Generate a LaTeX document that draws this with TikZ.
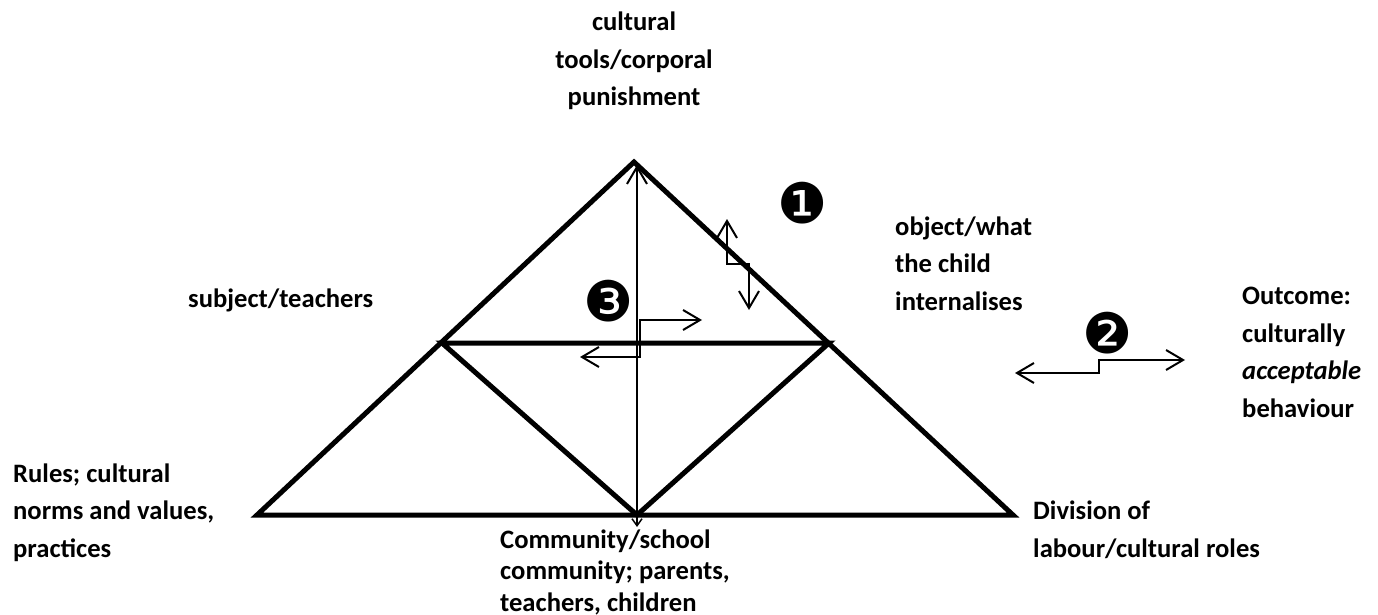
\documentclass[tikz,border=0pt]{standalone}
\usepackage{fontspec}
\setmainfont{Carlito}
\newfontfamily\dingfont{DejaVu Sans}
\usetikzlibrary{arrows.meta}

\begin{document}
\begin{tikzpicture}[x=1pt,y=-1pt,
  frame/.style={line width=5pt, line join=miter},
  link/.style={line width=2pt, line join=miter,
    arrows={Straight Barb[length=17pt,width=20pt,line width=2pt]-Straight Barb[length=17pt,width=20pt,line width=2pt]}},
  axis/.style={line width=2pt,
    arrows={Straight Barb[length=7pt,width=10pt,line width=1.5pt]-Straight Barb[length=17pt,width=20pt,line width=2pt]}},
  lbl/.style={font=\fontsize{26.6}{37.5}\selectfont\bfseries, align=left, anchor=base west, inner sep=0pt},
  num/.style={font=\dingfont\fontsize{56}{56}\selectfont, inner sep=0pt}]
\useasboundingbox (0,0) rectangle (1378,615);

% corners of the activity triangle
\coordinate (apex) at (634,162);
\coordinate (bl) at (257,515);
\coordinate (br) at (1013,515);
\coordinate (ml) at (442,343);
\coordinate (mr) at (829,343);
\coordinate (bm) at (637,515);

% outer triangle and inner split
\draw[frame] (bl) -- (apex) -- (br) -- cycle;
\draw[frame] (ml) -- (mr) -- (bm) -- cycle;

% vertical mediating axis
\coordinate (vtop) at (637,165);
\coordinate (vbot) at (637,527);
\draw[axis] (vbot) -- (vtop);

% stepped two-way arrows
\coordinate (a3l) at (580,357);
\coordinate (a3r) at (702,320);
\draw[link] (a3l) -- (640,357) -- (640,320) -- (a3r);

\coordinate (a1t) at (727,219);
\coordinate (a1b) at (749,310);
\draw[link] (a1t) -- (727,264) -- (749,264) -- (a1b);

\coordinate (a2l) at (1015,373);
\coordinate (a2r) at (1185,360);
\draw[link] (a2l) -- (1099,373) -- (1099,360) -- (a2r);

% numbered markers
\node[num] (n1) at (803,203) {❶};
\node[num] (n2) at (1108,333) {❷};
\node[num] (n3) at (609,301) {❸};

% labels (multi-line nodes are placed by the baseline of their last line)
\node[lbl, align=center, anchor=base] (tools) at (634,106) {cultural\\tools/corporal\\punishment};
\node[lbl] (subject) at (188,307) {subject/teachers};
\node[lbl] (object) at (895,310) {object/what\\the child\\internalises};
\node[lbl] (outcome) at (1242,417) {Outcome:\\culturally\\\textit{acceptable}\\behaviour};
\node[lbl] (rules) at (13,557) {Rules; cultural\\norms and values,\\practices};
\node[lbl, font=\fontsize{26.6}{31.5}\selectfont\bfseries] (community) at (500,611) {Community/school\\community; parents,\\teachers, children};
\node[lbl] (division) at (1033,557) {Division of\\labour/cultural roles};
\end{tikzpicture}
\end{document}
